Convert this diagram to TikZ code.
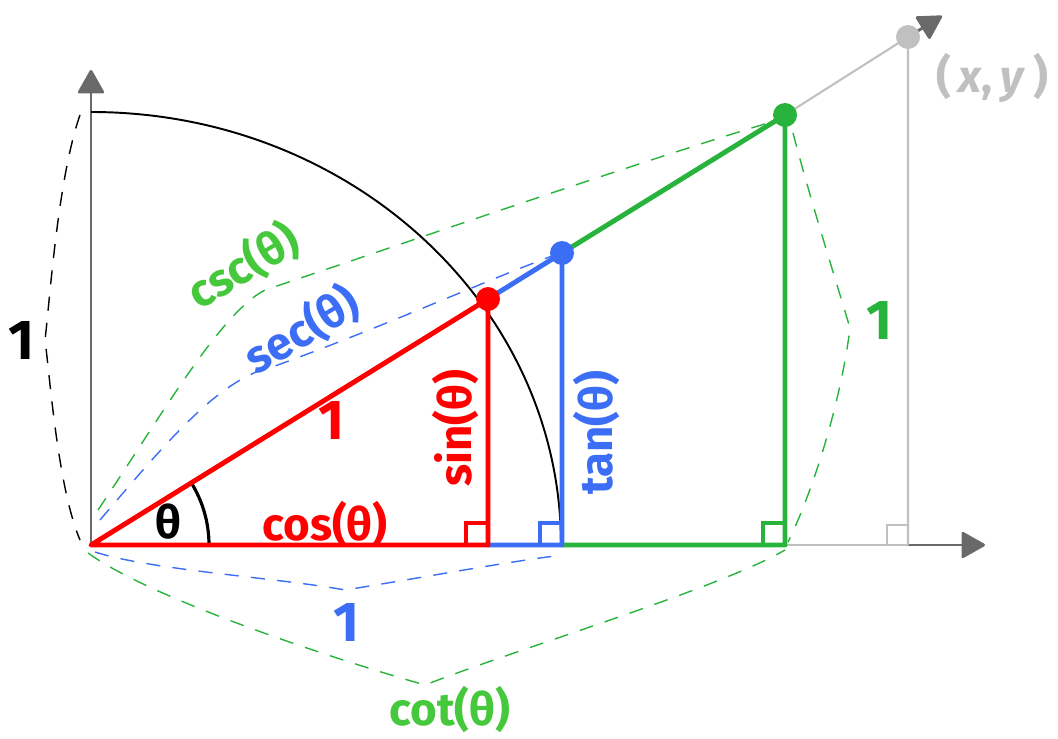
\documentclass[tikz,border=0pt]{standalone}
\usepackage{fontspec}
\setmainfont{Fira Sans}
\usetikzlibrary{arrows.meta,positioning,calc}
\definecolor{trigred}{RGB}{255,0,0}
\definecolor{trigblue}{RGB}{60,110,245}
\definecolor{triggreen}{RGB}{40,180,60}
\definecolor{labelgreen}{RGB}{70,200,60}
\definecolor{lightgray}{RGB}{192,192,192}
\definecolor{axisgray}{RGB}{105,105,105}

\begin{document}
\begin{tikzpicture}[x=0.02cm, y=0.02cm,
    seg/.style={line width=2.8pt, line cap=round, line join=round},
    brace/.style={dash pattern=on 8pt off 7pt, line width=0.8pt},
    lbl/.style={font=\bfseries\fontsize{26}{30}\selectfont, inner sep=0pt},
    one/.style={font=\bfseries\fontsize{32}{36}\selectfont, inner sep=0pt},
    dot/.style={circle, fill, inner sep=0pt, minimum size=0.48cm},
    corner/.style={line width=1.8pt},
    axis/.style={axisgray, line width=1.6pt},
    tip/.style={-{Triangle[length=0.5cm, width=0.55cm, round]}}]
    \useasboundingbox (0,0) rectangle (1058,738);
    % points
    \coordinate (O) at (91,193);
    \coordinate (ytip) at (91,668);
    \coordinate (ytop) at (91,626);
    \coordinate (xtip) at (985,193);
    \coordinate (P) at (488,439);
    \coordinate (Pf) at (488,193);
    \coordinate (T) at (562,485);
    \coordinate (Tf) at (562,193);
    \coordinate (G) at (785,623);
    \coordinate (Gf) at (785,193);
    \coordinate (X) at (908,701);
    \coordinate (Xf) at (908,193);
    \coordinate (rtip) at (942,722);
    % axes
    \draw[axis, tip] (O) -- (ytip);
    \draw[lightgray, line width=1.6pt] (O) -- (Xf);
    \draw[axis, tip] (Xf) -- (xtip);
    \draw[black, line width=1.1pt] (ytop) arc[start angle=90, end angle=0, x radius=470, y radius=433];
    % gray triangle
    \draw[lightgray, line width=1.2pt] (G) -- (X) -- (Xf);
    \draw[axis, tip] (X) -- (rtip);
    \draw[lightgray, line width=1.2pt] ($(Xf)+(-21,0)$) |- ($(Xf)+(0,20)$);
    % braces
    \draw[brace, black] (80,623) .. controls (58,560) and (50,440) .. (45,398) .. controls (50,360) and (58,250) .. (80,198);
    \draw[brace, triggreen] (98,228) .. controls (160,320) and (220,425) .. (265,448) .. controls (420,500) and (650,580) .. (778,618);
    \draw[brace, trigblue] (100,218) .. controls (170,300) and (220,360) .. (275,372) .. controls (380,410) and (480,455) .. (552,482);
    \draw[brace, trigblue] (95,186) .. controls (150,168) and (280,160) .. (345,148) .. controls (420,160) and (500,175) .. (555,182);
    \draw[brace, triggreen] (88,185) .. controls (150,140) and (330,80) .. (425,53) .. controls (520,90) and (720,150) .. (785,188);
    \draw[brace, triggreen] (793,605) .. controls (810,540) and (832,470) .. (850,410) .. controls (840,330) and (810,240) .. (788,196);
    % angle
    \draw[black, line width=1.8pt] ($(O)+(118,0)$) arc[start angle=0, end angle=32, radius=118];
    % triangles
    \draw[seg, triggreen] (Tf) -- (Gf) -- (G) -- (T);
    \draw[seg, trigblue] (Pf) -- (Tf) -- (T) -- (P);
    \draw[seg, trigred] (O) -- (Pf) -- (P) -- cycle;
    \draw[corner, trigred] ($(Pf)+(-22,0)$) |- ($(Pf)+(0,22)$);
    \draw[corner, trigblue] ($(Tf)+(-22,0)$) |- ($(Tf)+(0,22)$);
    \draw[corner, triggreen] ($(Gf)+(-22,0)$) |- ($(Gf)+(0,22)$);
    % dots
    \node[dot, lightgray] (xdot) at (X) {};
    \node[dot, triggreen] (gdot) at (G) {};
    \node[dot, trigblue] (tdot) at (T) {};
    \node[dot, trigred] (pdot) at (P) {};
    % labels
    \node[lbl] (theta) at (168,216) {θ};
    \node[lbl, trigred] (coslbl) at (325,213) {cos(θ)};
    \node[one, trigred] (hyplbl) at (332,318) {1};
    \node[lbl, trigred, rotate=90] (sinlbl) at (456,310) {sin(θ)};
    \node[lbl, trigblue, rotate=90] (tanlbl) at (597,305) {tan(θ)};
    \node[lbl, trigblue, rotate=31] (seclbl) at (302,408) {sec(θ)};
    \node[lbl, labelgreen, rotate=31] (csclbl) at (243,472) {csc(θ)};
    \node[one] (leftone) at (22,398) {1};
    \node[one, trigblue] (botone) at (347,116) {1};
    \node[lbl, labelgreen] (cotlbl) at (450,28) {cot(θ)};
    \node[one, triggreen] (rightone) at (880,418) {1};
    \node[lbl, lightgray] (xylbl) at (992,660) {(\,\textit{x},\,\textit{y}\,)};
\end{tikzpicture}
\end{document}
